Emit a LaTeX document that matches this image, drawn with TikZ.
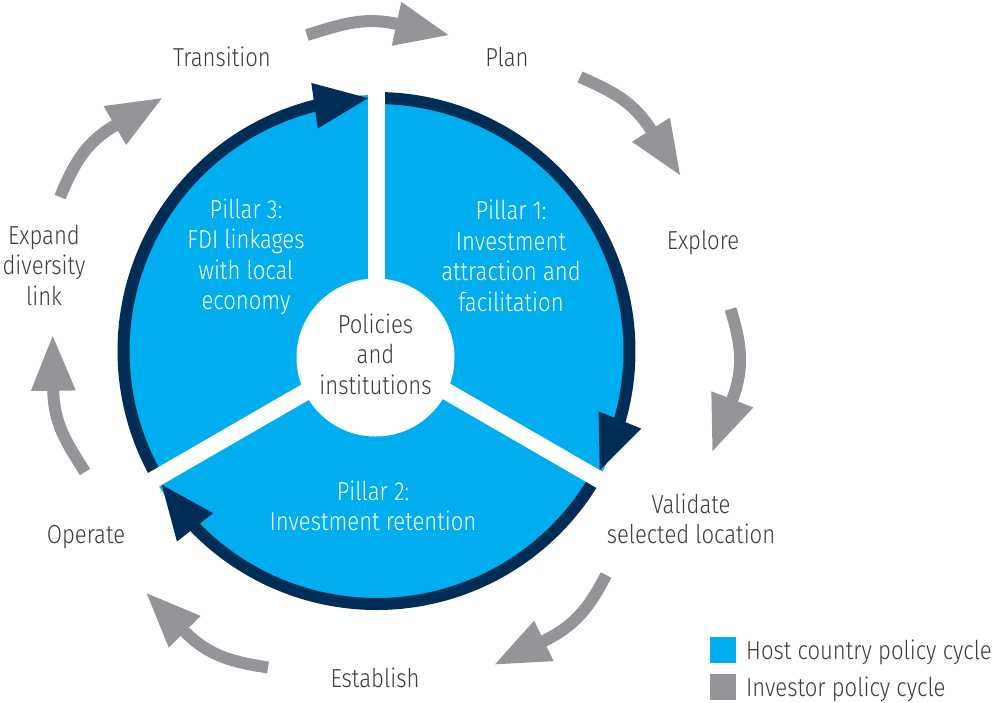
\documentclass[tikz,border=0pt]{standalone}
\usepackage{fontspec}
\setmainfont{Fira Sans Light}[FakeStretch=0.85]
\usetikzlibrary{calc}

\definecolor{hostblue}{HTML}{00AEEF}
\definecolor{ringnavy}{HTML}{002D56}
\definecolor{cyclegray}{HTML}{939598}
\definecolor{labelgray}{HTML}{3C3C3E}

% grey investor-cycle arrow: name, tail, out angle, shaft end, in angle, tip
\newcommand\cyclearrow[6]{%
  \coordinate (#1-tail) at (#2);
  \coordinate (#1-base) at (#4);
  \coordinate (#1-tip)  at (#6);
  \draw[cycleshaft] (#1-tail) to[out=#3,in=#5] (#1-base);
  \fill[cyclegray] (#1-tip)
    -- ($($(#1-base)!-1pt!(#1-tip)$)!22.5pt!90:(#1-tip)$)
    -- ($($(#1-base)!-1pt!(#1-tip)$)!22.5pt!-90:(#1-tip)$) -- cycle;}

% navy host-cycle arrowhead on the ring: name, tip angle, base angle
\newcommand\ringhead[3]{%
  \coordinate (#1-tip)  at ($(C)+(#2:253)$);
  \coordinate (#1-base) at ($(C)+(#3:253)$);
  \fill[ringnavy] (#1-tip)
    -- ($(#1-base)!23pt!90:(#1-tip)$)
    -- ($(#1-base)!23pt!-90:(#1-tip)$) -- cycle;}

\begin{document}
\begin{tikzpicture}[x=1pt,y=1pt,
  cyclelabel/.style={font=\fontsize{26}{30.5}\selectfont, text=labelgray,
    align=center, inner sep=0pt},
  pillartext/.style={font=\fontsize{26}{30.5}\selectfont, text=white,
    align=center, inner sep=0pt},
  cycleshaft/.style={draw=cyclegray, line width=12pt},
  ringarc/.style={draw=ringnavy, line width=12pt},
  pillargap/.style={draw=white, line width=17pt},
  keybox/.style={minimum size=26pt, inner sep=0pt, outer sep=0pt},
]
\useasboundingbox (0,0) rectangle (995,-702);
\coordinate (C) at (376.5,-351);

% three pillars of the host country cycle
\fill[hostblue] (C) circle[radius=256];
\draw[ringarc] ($(C)+(90:253)$)  arc[start angle=90,  end angle=-16.8, radius=253];
\draw[ringarc] ($(C)+(210:253)$) arc[start angle=210, end angle=103.2, radius=253];
\draw[ringarc] ($(C)+(330:253)$) arc[start angle=330, end angle=223.2, radius=253];
\foreach \ang in {90,210,330}
  \draw[pillargap] (C) -- ++(\ang:263);
\ringhead{h1}{-28.07}{-15.82}
\ringhead{h3}{91.93}{104.18}
\ringhead{h2}{211.93}{224.18}

% core
\node[circle, fill=white, minimum size=158pt, inner sep=0pt] (core) at (375.5,-357.5) {};
\node[cyclelabel] (coretext) at (375.5,-354) {Policies\\and\\institutions};

% pillar texts
\node[pillartext] (p1) at (511,-256) {Pillar 1:\\Investment\\attraction and\\facilitation};
\node[pillartext] (p3) at (246,-257) {Pillar 3:\\FDI linkages\\with local\\economy};
\node[pillartext] (p2) at (373,-506) {Pillar 2:\\Investment retention};

% investor cycle stages
\node[cyclelabel] (transition) at (222,-57)  {Transition};
\node[cyclelabel] (plan)       at (507,-57)  {Plan};
\node[cyclelabel] (explore)    at (703,-242) {Explore};
\node[cyclelabel] (validate)   at (691,-519) {Validate\\selected location};
\node[cyclelabel] (establish)  at (375,-678) {Establish};
\node[cyclelabel] (operate)    at (86,-537)  {Operate};
\node[cyclelabel] (expand)     at (44,-265)  {Expand\\diversity\\link};

% investor cycle arrows
\cyclearrow{ga}{307,-35}{17}{397.5,-24}{167.8}{448.3,-35}
\cyclearrow{gb}{580,-77}{-24}{651.5,-130.5}{122.6}{680,-175}
\cyclearrow{gc}{730.5,-309}{-73}{732,-400.3}{69}{712.5,-451}
\cyclearrow{gd}{606,-575}{-117}{543,-641.3}{25.6}{495,-664.3}
\cyclearrow{ge}{268,-667.5}{171}{184,-631}{-45.3}{146.7,-593.3}
\cyclearrow{gf}{85,-472}{122}{53.3,-389.7}{-89.4}{52.7,-336}
\cyclearrow{gg}{60,-197}{67}{115.7,-125}{210.1}{161.7,-98.3}

% legend
\node[keybox, fill=hostblue]  (keyhost) at (723,-650)   {};
\node[keybox, fill=cyclegray] (keyinv)  at (723,-686.5) {};
\node[cyclelabel, anchor=base west] (keyhosttext) at (746,-659.5) {Host country policy cycle};
\node[cyclelabel, anchor=base west] (keyinvtext)  at (746,-696)   {Investor policy cycle};
\end{tikzpicture}
\end{document}
